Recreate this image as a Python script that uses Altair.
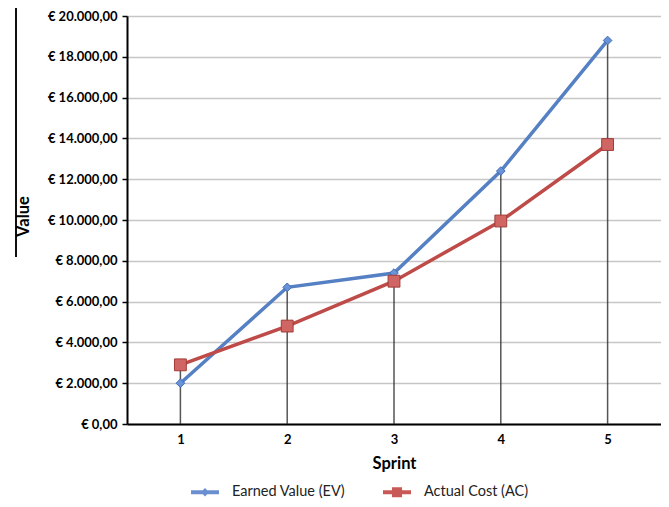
import altair as alt
import pandas as pd

sprints = [1, 2, 3, 4, 5]
earned_value = [2000, 6700, 7400, 12400, 18800]
actual_cost = [2900, 4800, 7000, 9950, 13700]
series_names = ["Earned Value (EV)", "Actual Cost (AC)"]
y_ticks = list(range(0, 20001, 2000))

BLUE = "#5580C4"
RED = "#BE4B48"

wide = pd.DataFrame({"Sprint": sprints, "EV": earned_value, "AC": actual_cost})
ev_df = pd.DataFrame({"Sprint": sprints, "Value": earned_value})
ac_df = pd.DataFrame({"Sprint": sprints, "Value": actual_cost})
legend_df = pd.DataFrame({"Sprint": [1, 1], "Value": [-5000, -5000], "Series": series_names})

FONT = "Lato"

x_enc = alt.X(
    "Sprint:O",
    scale=alt.Scale(type="point", padding=0.5),
    axis=alt.Axis(
        title="Sprint", labelAngle=0, ticks=False, tickSize=0, grid=False,
        domainColor="black", domainWidth=2,
        labelFont=FONT, labelFontWeight="bold", labelFontSize=13, labelColor="black",
        labelPadding=9,
        titleFont=FONT, titleFontWeight="bold", titleFontSize=16.5, titleColor="black",
        titleY=39, titleBaseline="middle",
    ),
)
y_scale = alt.Scale(domain=[0, 20000], nice=False, zero=True)
y_enc = alt.Y(
    "Value:Q",
    scale=y_scale,
    axis=alt.Axis(
        title="Value", values=y_ticks, grid=True, gridColor="#c6c6c6", gridWidth=1.5,
        domainColor="black", domainWidth=2, tickColor="black", tickSize=5, tickWidth=1.5,
        labelFont=FONT, labelFontWeight="bold", labelFontSize=13, labelColor="black",
        labelPadding=5,
        labelExpr="'€ ' + replace(replace(replace(format(datum.value, ',.2f'), ',', '_'), '.', ','), '_', '.')",
        titleFont=FONT, titleFontWeight="bold", titleFontSize=16.5, titleColor="black",
        titleX=-104, titleY=200, titleAlign="center", titleBaseline="middle", titleAngle=-90,
    ),
)

drop = alt.Chart(wide).transform_calculate(
    top="max(datum.EV, datum.AC)", base="0"
).mark_rule(color="#2b2b2b", strokeWidth=1.5, opacity=0.8).encode(
    x=x_enc,
    y=alt.Y("top:Q", scale=y_scale),
    y2="base:Q",
)

ev_line = alt.Chart(ev_df).mark_line(color=BLUE, strokeWidth=3.5).encode(x=x_enc, y=y_enc)
ac_line = alt.Chart(ac_df).mark_line(color=RED, strokeWidth=3.5).encode(x=x_enc, y=y_enc)

ev_pts = alt.Chart(ev_df).mark_point(
    shape="diamond", filled=True, size=75, color="#6a92d6", stroke="#3f6fb5", strokeWidth=1, opacity=1
).encode(x=x_enc, y=y_enc)
ac_pts = alt.Chart(ac_df).mark_square(
    size=140, color="#cf6663", stroke="#a33b38", strokeWidth=1, opacity=1
).encode(x=x_enc, y=y_enc)

EV_SYM = "M-1,-0.14H1V0.14H-1Z M0,-0.3L0.3,0L0,0.3L-0.3,0Z"
AC_SYM = "M-1,-0.14H1V0.14H-1Z M-0.36,-0.36H0.36V0.36H-0.36Z"

leg = alt.Legend(
    title=None, orient="none", direction="horizontal", legendX=64, legendY=462,
    symbolSize=784, symbolStrokeWidth=0, labelFont=FONT, labelFontSize=14.5,
    labelColor="#222222", labelOffset=13, columnPadding=37, padding=0,
    symbolOpacity=1,
)

legend_layer = alt.Chart(legend_df).mark_point(filled=True, clip=True, opacity=1, strokeWidth=0).encode(
    x=x_enc,
    y=alt.Y("Value:Q", scale=y_scale),
    color=alt.Color(
        "Series:N",
        scale=alt.Scale(domain=series_names, range=["#6a8fd0", "#c95956"]),
        sort=series_names,
        legend=leg,
    ),
    shape=alt.Shape(
        "Series:N",
        scale=alt.Scale(domain=series_names, range=[EV_SYM, AC_SYM]),
        sort=series_names,
        legend=leg,
    ),
)

edge = alt.Chart(legend_df).mark_rule(color="black", strokeWidth=1.5).encode(
    x=alt.value(-111), y=alt.value(-16), y2=alt.value(241)
)

chart = alt.layer(
    drop, ev_line, ac_line, ev_pts, ac_pts, legend_layer, edge
).properties(
    width=534, height=408,
    autosize=alt.AutoSizeParams(type="none"),
    padding={"left": 119, "top": 8, "right": 0, "bottom": 75},
).configure_view(stroke=None).configure(background="white")

chart.save("out.html", embed_options={"renderer": "svg", "actions": False})
